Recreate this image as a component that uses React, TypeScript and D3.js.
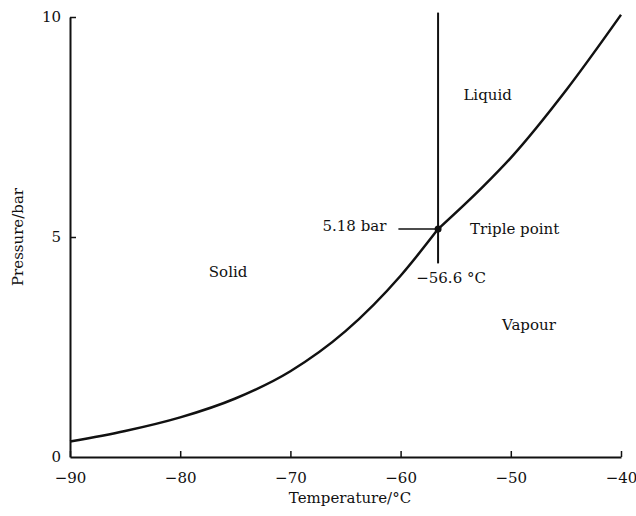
import React, { useRef, useEffect } from 'react';
import * as d3 from 'd3';

// Sublimation curve of CO2 (solid/vapour)
const sublimationTemps = [-90, -85, -80, -75, -70, -65, -60, -56.6];
const sublimationPressures = [0.35, 0.59, 0.9, 1.33, 1.95, 2.86, 4.12, 5.18];

// Vaporisation curve (liquid/vapour)
const vaporTemps = [-56.6, -52.5, -50, -45, -40];
const vaporPressures = [5.18, 6.15, 6.8, 8.33, 10.05];

// Melting line and triple point markers
const meltTemps = [-56.6, -56.6];
const meltPressures = [10.1, 4.4];
const triplePoint = { t: -56.6, p: 5.18 };
const tripleTickTemps = [-60.2, -56.6];

const xTicks = [-90, -80, -70, -60, -50, -40];
const yTicks = [0, 5, 10];

const regionLabels = [
  { text: 'Liquid', t: -54.3, p: 8.23 },
  { text: 'Solid', t: -77.4, p: 4.2 },
  { text: 'Vapour', t: -50.8, p: 3.0 },
];

export default function App() {
  const svgRef = useRef<SVGSVGElement>(null);
  const width = 636;
  const height = 516;
  const margin = { top: 17, right: 15, bottom: 59, left: 70 };

  useEffect(() => {
    const svg = d3.select(svgRef.current);
    svg.selectAll('*').remove();
    const font = '"DejaVu Serif", serif';
    const ink = '#111';

    const x = d3.scaleLinear().domain([-90, -40]).range([margin.left, width - margin.right]);
    const y = d3.scaleLinear().domain([0, 10]).range([height - margin.bottom, margin.top]);

    // x axis
    svg.append('g')
      .attr('transform', `translate(0,${y(0)})`)
      .call(d3.axisBottom(x).tickValues(xTicks).tickSizeInner(-6).tickSizeOuter(0).tickPadding(15))
      .call(g => g.select('.domain').attr('stroke', ink).attr('stroke-width', 2))
      .call(g => g.selectAll('.tick line').attr('stroke', ink).attr('stroke-width', 1.5))
      .call(g => g.selectAll('.tick text')
        .attr('font-size', 15)
        .attr('font-family', font)
        .attr('fill', ink));

    // y axis
    svg.append('g')
      .attr('transform', `translate(${x(-90)},0)`)
      .call(d3.axisLeft(y).tickValues(yTicks).tickSizeInner(-6).tickSizeOuter(0).tickPadding(9))
      .call(g => g.select('.domain').attr('stroke', ink).attr('stroke-width', 2))
      .call(g => g.selectAll('.tick line').attr('stroke', ink).attr('stroke-width', 1.5))
      .call(g => g.selectAll('.tick').filter((d: any) => d === 0).select('line').remove())
      .call(g => g.selectAll('.tick text')
        .attr('font-size', 15)
        .attr('font-family', font)
        .attr('fill', ink));

    // axis titles
    svg.append('text')
      .attr('x', 350)
      .attr('y', height - 13)
      .attr('text-anchor', 'middle')
      .attr('font-size', 15)
      .attr('font-family', font)
      .attr('fill', ink)
      .text('Temperature/°C');

    svg.append('text')
      .attr('transform', `translate(23,${y(5)}) rotate(-90)`)
      .attr('text-anchor', 'middle')
      .attr('font-size', 15)
      .attr('font-family', font)
      .attr('fill', ink)
      .text('Pressure/bar');

    // phase boundaries
    const line = d3.line<{ t: number; p: number }>()
      .x(d => x(d.t))
      .y(d => y(d.p))
      .curve(d3.curveMonotoneX);
    const segments = [
      sublimationTemps.map((t, i) => ({ t, p: sublimationPressures[i] })),
      vaporTemps.map((t, i) => ({ t, p: vaporPressures[i] })),
    ];
    svg.append('g')
      .selectAll('path')
      .data(segments)
      .join('path')
      .attr('fill', 'none')
      .attr('stroke', ink)
      .attr('stroke-width', 2.5)
      .attr('stroke-linejoin', 'round')
      .attr('d', line);

    // melting line
    svg.append('line')
      .attr('x1', x(meltTemps[0]))
      .attr('x2', x(meltTemps[1]))
      .attr('y1', y(meltPressures[0]))
      .attr('y2', y(meltPressures[1]))
      .attr('stroke', ink)
      .attr('stroke-width', 2);

    // triple point leader and dot
    svg.append('line')
      .attr('x1', x(tripleTickTemps[0]))
      .attr('x2', x(tripleTickTemps[1]))
      .attr('y1', y(triplePoint.p))
      .attr('y2', y(triplePoint.p))
      .attr('stroke', ink)
      .attr('stroke-width', 1.5);
    svg.append('circle')
      .attr('cx', x(triplePoint.t))
      .attr('cy', y(triplePoint.p))
      .attr('r', 3.5)
      .attr('fill', ink);

    svg.append('text')
      .attr('x', x(tripleTickTemps[0]) - 12)
      .attr('y', y(triplePoint.p))
      .attr('dy', '0.1em')
      .attr('text-anchor', 'end')
      .attr('font-size', 15)
      .attr('font-family', font)
      .attr('fill', ink)
      .text(`${triplePoint.p} bar`);
    svg.append('text')
      .attr('x', x(triplePoint.t) + 32)
      .attr('y', y(triplePoint.p))
      .attr('dy', '0.35em')
      .attr('font-size', 15)
      .attr('font-family', font)
      .attr('fill', ink)
      .text('Triple point');
    svg.append('text')
      .attr('x', x(triplePoint.t) + 13)
      .attr('y', y(meltPressures[1]) + 20)
      .attr('text-anchor', 'middle')
      .attr('font-size', 15)
      .attr('font-family', font)
      .attr('fill', ink)
      .text(`\u2212${Math.abs(triplePoint.t)} °C`);

    // region labels
    svg.append('g')
      .selectAll('text')
      .data(regionLabels)
      .join('text')
      .attr('x', d => x(d.t))
      .attr('y', d => y(d.p))
      .attr('dy', '0.35em')
      .attr('font-size', 15)
      .attr('font-family', font)
      .attr('fill', ink)
      .text(d => d.text);
  }, []);

  return (
    <svg
      ref={svgRef}
      width={width}
      height={height}
      style={{ position: 'absolute', left: 0, top: 0, background: '#fff' }}
    />
  );
}
